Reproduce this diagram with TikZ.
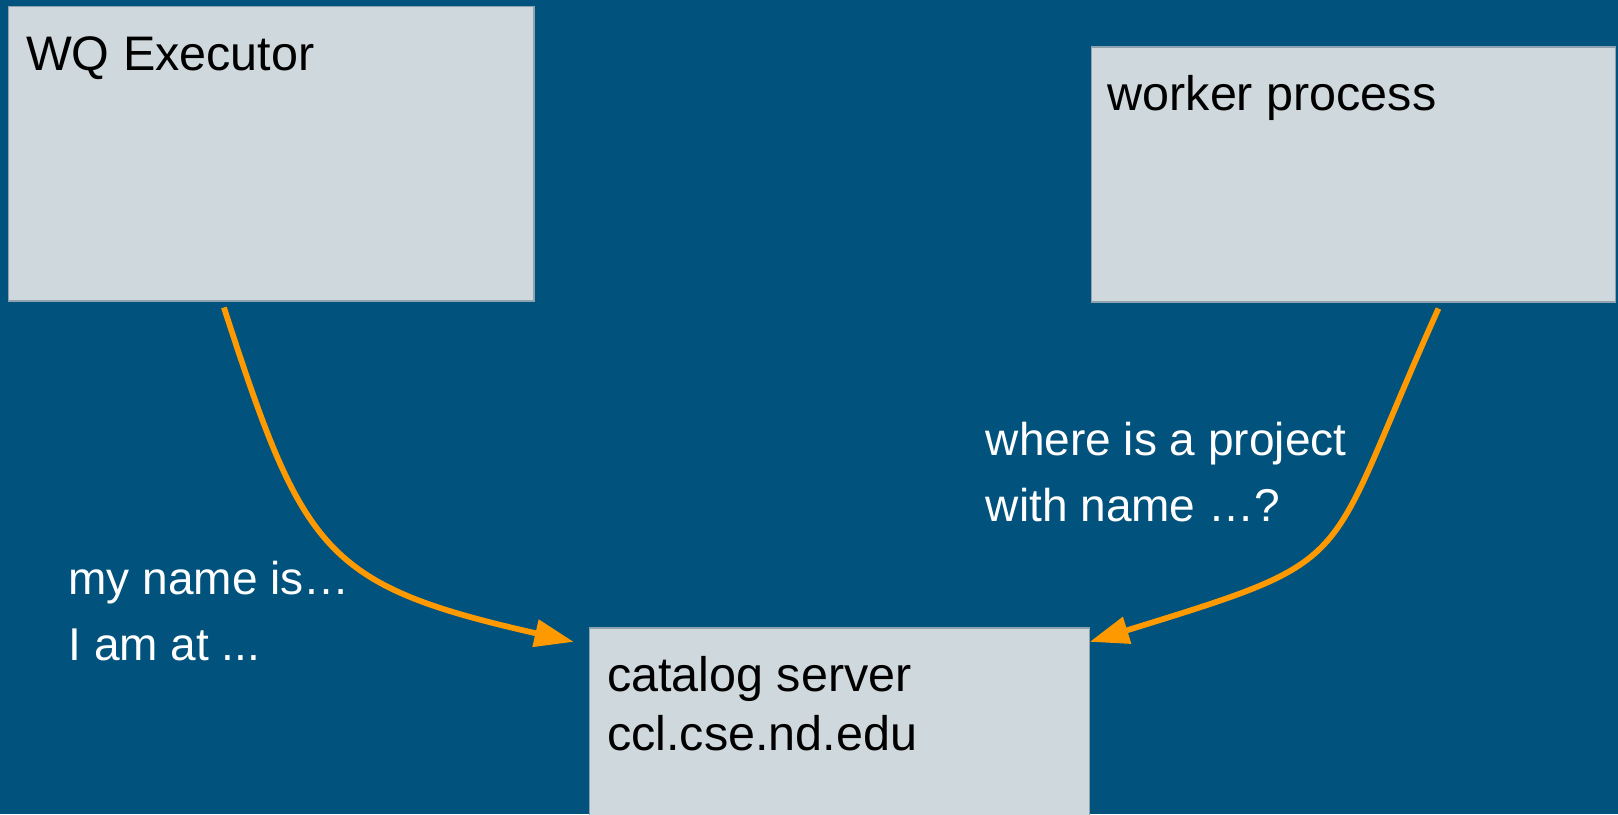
\documentclass[tikz,border=0pt]{standalone}
\usepackage{fontspec}
\setmainfont{Liberation Sans}
\usetikzlibrary{arrows.meta}
\definecolor{bg}{HTML}{01527C}
\definecolor{boxfill}{HTML}{CFD8DC}
\definecolor{boxline}{HTML}{8FA3AE}
\definecolor{arr}{HTML}{FF9900}
\begin{document}
\begin{tikzpicture}[x=0.5pt,y=-0.5pt,
  box/.style={draw=boxline, line width=0.6pt, fill=boxfill, anchor=north west, inner sep=0pt},
  boxtext/.style={anchor=base west, align=left, inner sep=0pt, text=black, font=\fontsize{23.5}{28.5}\selectfont},
  note/.style={anchor=base west, align=left, inner sep=0pt, text=white, font=\fontsize{22.3}{32}\selectfont},
  flow/.style={draw=arr, line width=2.8pt, -{Triangle[length=19pt,width=13pt]}}]
\fill[bg] (0,0) rectangle (1568,789);
\useasboundingbox (0,0) rectangle (1568,789);
\node[box, minimum width=254.5pt, minimum height=142.5pt] (wq) at (8,6) {};
\node[box, minimum width=254pt, minimum height=123.5pt] (worker) at (1057,45) {};
\node[box, minimum width=242pt, minimum height=100pt] (cat) at (571,608) {};
\node[boxtext] (wqt) at (25,68) {WQ Executor};
\node[boxtext] (wkt) at (1073,107) {worker process};
\node[boxtext] (catt) at (588,727) {catalog server\\ccl.cse.nd.edu};
\node[note] (n1) at (66,640) {my name is…\\I am at ...};
\node[note] (n2) at (955,505) {where is a project\\with name …?};
\coordinate (s1) at (217,298);
\coordinate (e1) at (556,622);
\coordinate (s2) at (1394,299);
\coordinate (e2) at (1056,622);
\draw[flow] (s1) .. controls (294,535) and (313,567) .. (e1);
\draw[flow] (s2) .. controls (1279,554) and (1324,539) .. (e2);
\end{tikzpicture}
\end{document}
